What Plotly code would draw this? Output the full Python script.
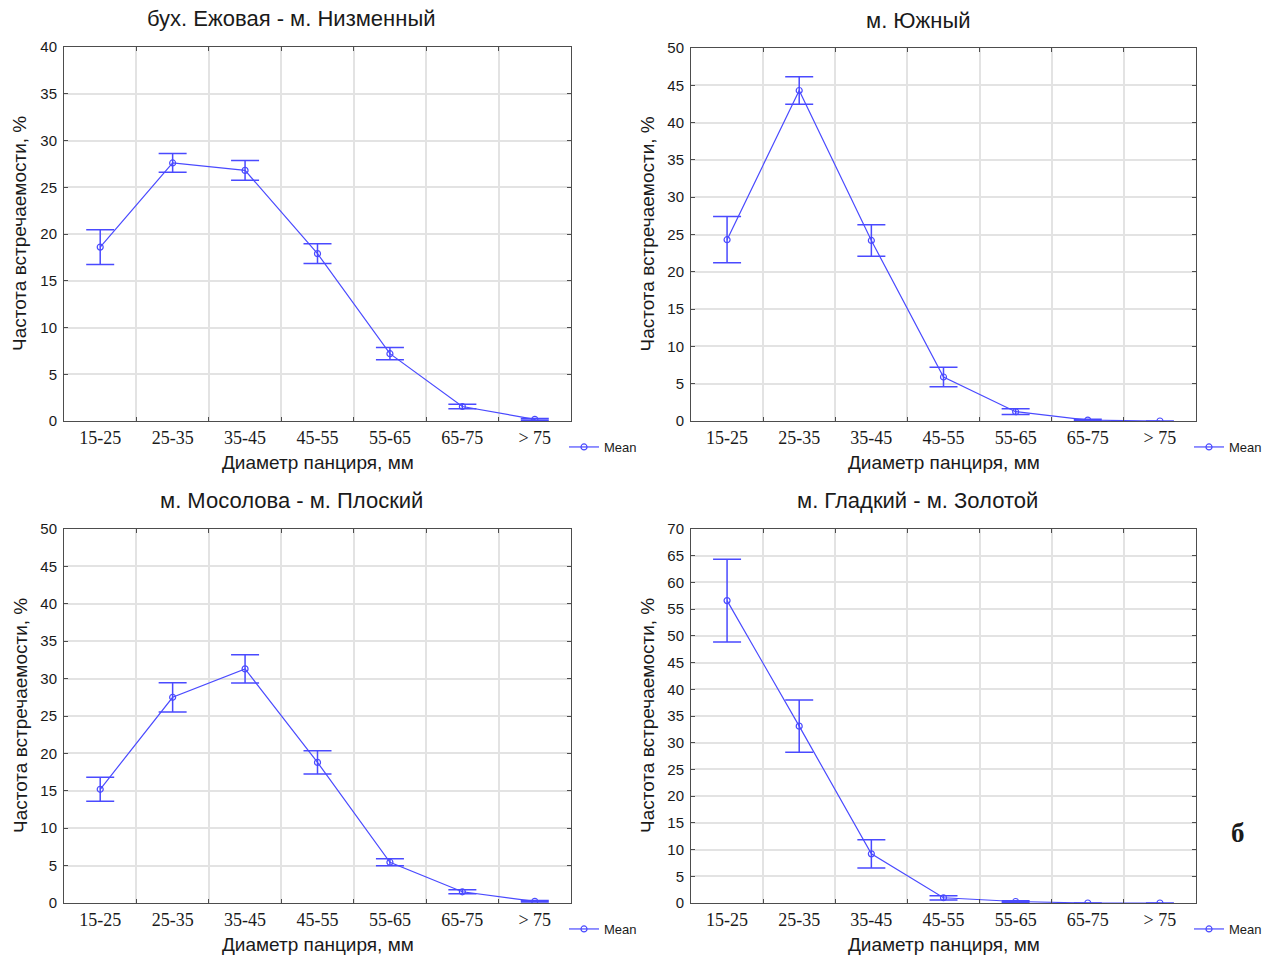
import plotly.graph_objects as go

W, H = 1280, 957

size_classes = ["15-25", "25-35", "35-45", "45-55", "55-65", "65-75", "> 75"]

titles = ["бух. Ежовая - м. Низменный", "м. Южный",
          "м. Мосолова - м. Плоский", "м. Гладкий - м. Золотой"]

# mean frequency, % and half-width of the interval
mean_ezhovaya = [18.6, 27.6, 26.8, 17.9, 7.2, 1.55, 0.18]
err_ezhovaya = [1.85, 1.0, 1.05, 1.05, 0.65, 0.25, 0.1]

mean_yuzhny = [24.3, 44.3, 24.2, 5.9, 1.25, 0.13, 0.0]
err_yuzhny = [3.1, 1.85, 2.1, 1.3, 0.38, 0.1, 0.0]

mean_mosolova = [15.2, 27.5, 31.3, 18.8, 5.45, 1.5, 0.22]
err_mosolova = [1.6, 1.95, 1.9, 1.55, 0.48, 0.27, 0.1]

mean_gladky = [56.6, 33.1, 9.2, 0.98, 0.28, 0.0, 0.0]
err_gladky = [7.75, 4.9, 2.65, 0.4, 0.15, 0.0, 0.0]

y_max = [40, 50, 50, 70]
y_step = [5, 5, 5, 5]

series = [(mean_ezhovaya, err_ezhovaya), (mean_yuzhny, err_yuzhny),
          (mean_mosolova, err_mosolova), (mean_gladky, err_gladky)]

# plot areas in pixels: left, right, top, bottom
boxes = [(64, 571, 47, 421), (691, 1196, 48, 421),
         (64, 571, 529, 903), (691, 1196, 529, 903)]
title_x = [291, 918, 291, 917]

BLUE = "#4a4aff"
TEXT = "#1a1a1a"
AXIS = "#4d4d4d"
GRID = "#e3e3e3"


def px(x):
    return x / W


def py(y):
    return 1 - y / H


fig = go.Figure()
annotations = []

for i, ((means, errs), (l, r, t, b)) in enumerate(zip(series, boxes)):
    n = "" if i == 0 else str(i + 1)
    leg = "legend" + n
    fig.add_trace(go.Scatter(
        x=size_classes, y=means, name="Mean",
        mode="lines+markers",
        line=dict(color=BLUE, width=1.2),
        marker=dict(symbol="circle-open", size=6, color=BLUE,
                    line=dict(width=1.2, color=BLUE)),
        error_y=dict(type="data", array=errs, visible=True,
                     color=BLUE, thickness=1.5, width=14),
        xaxis="x" + n, yaxis="y" + n, legend=leg,
    ))
    axis_common = dict(
        showline=True, linecolor=AXIS, linewidth=1, mirror="ticks",
        ticks="inside", ticklen=4, tickcolor=AXIS,
        showgrid=True, gridcolor=GRID, gridwidth=1.5, zeroline=False,
    )
    fig.layout["xaxis" + n] = dict(
        domain=[px(l), px(r)], anchor="y" + n, type="category",
        categoryorder="array", categoryarray=size_classes,
        range=[-0.5, 6.5], tickson="boundaries",
        tickfont=dict(family="Liberation Serif", size=18, color=TEXT),
        **axis_common,
    )
    fig.layout["yaxis" + n] = dict(
        domain=[py(b), py(t)], anchor="x" + n,
        range=[0, y_max[i]], dtick=y_step[i], tick0=0,
        ticklabelstandoff=3,
        tickfont=dict(family="Liberation Sans", size=15, color=TEXT),
        **axis_common,
    )
    fig.layout[leg] = dict(
        x=px(r - 7), y=py(b + 26), xanchor="left", yanchor="middle",
        bgcolor="rgba(0,0,0,0)", itemwidth=30,
        font=dict(family="Liberation Sans", size=13, color=TEXT),
    )
    annotations.append(dict(
        text=titles[i], x=px(title_x[i]), y=py(t - 28), xref="paper",
        yref="paper", showarrow=False, xanchor="center", yanchor="middle",
        font=dict(family="Liberation Sans", size=22, color=TEXT)))
    annotations.append(dict(
        text="Диаметр панциря, мм", x=px((l + r) / 2), y=py(b + 41),
        xref="paper", yref="paper", showarrow=False,
        xanchor="center", yanchor="middle",
        font=dict(family="Liberation Sans", size=19, color=TEXT)))
    annotations.append(dict(
        text="Частота встречаемости, %", x=px(l - 44), y=py((t + b) / 2),
        xref="paper", yref="paper", showarrow=False, textangle=-90,
        xanchor="center", yanchor="middle",
        font=dict(family="Liberation Sans", size=19, color=TEXT)))

annotations.append(dict(
    text="<b>б</b>", x=px(1238), y=py(833), xref="paper", yref="paper",
    showarrow=False, xanchor="center", yanchor="middle",
    font=dict(family="Liberation Serif", size=27, color=TEXT)))

fig.update_layout(
    width=W, height=H, autosize=False,
    margin=dict(l=0, r=0, t=0, b=0, autoexpand=False),
    paper_bgcolor="white", plot_bgcolor="white",
    annotations=annotations, showlegend=True,
)

fig.write_html("out.html")
